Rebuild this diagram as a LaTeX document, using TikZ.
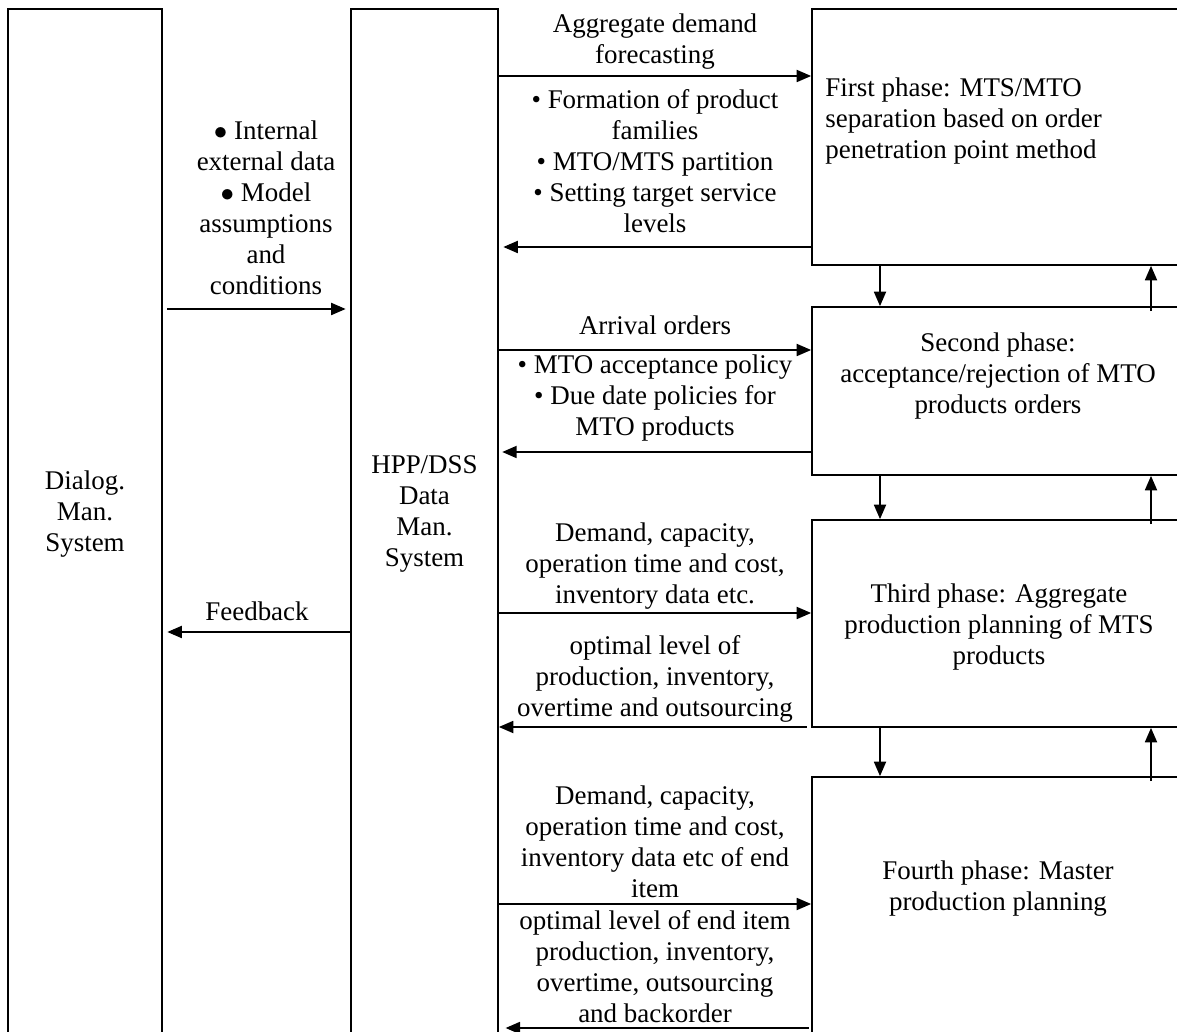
\documentclass[tikz,border=0pt]{standalone}
\usepackage{fontspec}
\setmainfont{Liberation Serif}
\usetikzlibrary{arrows.meta,fit}

\tikzset{
  sysbox/.style={draw=black, line width=0.8pt, inner sep=0pt, align=center},
  phasebox/.style={draw=black, line width=0.8pt, inner sep=0pt},
  flow/.style={-{Triangle[length=6.4pt,width=5.4pt]}, line width=0.6pt},
  txt/.style={align=center, font=\fontsize{12}{13.8}\selectfont},
}

\begin{document}
\begin{tikzpicture}[x=0.445pt,y=0.445pt]
\tikzstyle{every node}+=[inner sep=0pt]
\useasboundingbox (0,0) rectangle (1177,-1032);

% system columns
\node [sysbox, txt, fit={(8,-9) (162,-1037)}] (dms) {Dialog.\\Man.\\System};
\node [sysbox, txt, fit={(351,-9) (498,-1037)}] (hpp) {HPP/DSS\\Data\\Man.\\System};

% phase boxes
\node [phasebox, fit={(812,-9) (1200,-265)}] (p1) {};
\node [phasebox, fit={(812,-307) (1200,-475)}] (p2) {};
\node [phasebox, fit={(812,-520) (1200,-727)}] (p3) {};
\node [phasebox, fit={(812,-777) (1200,-1060)}] (p4) {};

\node [txt, anchor=west, align=left] (t1) at (825,-121) {First phase: MTS/MTO\\separation based on order\\penetration point method};
\node [txt] (t2) at (998,-376) {Second phase:\\acceptance/rejection of MTO\\products orders};
\node [txt] (t3) at (999,-627) {Third phase: Aggregate\\production planning of MTS\\products};
\node [txt] (t4) at (998,-889) {Fourth phase: Master\\production planning};

% levels of the connectors
\coordinate (ina) at (0,-309);
\coordinate (fb) at (0,-632);
\coordinate (r1) at (0,-76);
\coordinate (l1) at (0,-247);
\coordinate (r2) at (0,-350);
\coordinate (l2) at (0,-452);
\coordinate (r3) at (0,-613);
\coordinate (l3) at (0,-727);
\coordinate (r4) at (0,-904);
\coordinate (l4) at (0,-1028);
\coordinate (dn) at (880,0);
\coordinate (up) at (1151,0);

% dialog <-> data
\draw [flow, shorten <=2pt, shorten >=2pt] (dms.east |- ina) -- (hpp.west |- ina);
\draw [flow, shorten <=0pt, shorten >=2pt] (hpp.west |- fb) -- (dms.east |- fb);
\draw (266,-208) node [txt] (inl) {$\bullet$ Internal\\external data\\$\bullet$ Model\\assumptions\\and\\conditions};
\draw (257,-611) node [txt] (fbl) {Feedback};

% data <-> phases
\draw [flow] (hpp.east |- r1) -- (p1.west |- r1);
\draw [flow, shorten >=2pt] (p1.west |- l1) -- (hpp.east |- l1);
\draw [flow] (hpp.east |- r2) -- (p2.west |- r2);
\draw [flow, shorten >=1.5pt] (p2.west |- l2) -- (hpp.east |- l2);
\draw [flow] (hpp.east |- r3) -- (p3.west |- r3);
\draw [flow, shorten <=2pt] (p3.west |- l3) -- (hpp.east |- l3);
\draw [flow] (hpp.east |- r4) -- (p4.west |- r4);
\draw [flow, shorten <=1pt, shorten >=3pt] (p4.west |- l4) -- (hpp.east |- l4);

\draw (655,-42) node [txt] (a1) {Aggregate demand\\forecasting};
\draw (655,-161) node [txt] (b1) {\textbullet{} Formation of product\\families\\\textbullet{} MTO/MTS partition\\\textbullet{} Setting target service\\levels};
\draw (655,-325) node [txt] (a2) {Arrival orders};
\draw (655,-398) node [txt] (b2) {\textbullet{} MTO acceptance policy\\\textbullet{} Due date policies for\\MTO products};
\draw (655,-566) node [txt] (a3) {Demand, capacity,\\operation time and cost,\\inventory data etc.};
\draw (655,-679) node [txt] (b3) {optimal level of\\production, inventory,\\overtime and outsourcing};
\draw (655,-842) node [txt] (a4) {Demand, capacity,\\operation time and cost,\\inventory data etc of end\\item};
\draw (655,-967) node [txt] (b4) {optimal level of end item\\production, inventory,\\overtime, outsourcing\\and backorder};

% between phases
\draw [flow] (p1.south -| dn) -- (p2.north -| dn);
\draw [flow] (p2.north -| up) ++(0,-5) -- (p1.south -| up);
\draw [flow] (p2.south -| dn) -- (p3.north -| dn);
\draw [flow] (p3.north -| up) ++(0,-5) -- (p2.south -| up);
\draw [flow] (p3.south -| dn) -- (p4.north -| dn);
\draw [flow] (p4.north -| up) ++(0,-5) -- (p3.south -| up);
\end{tikzpicture}
\end{document}
